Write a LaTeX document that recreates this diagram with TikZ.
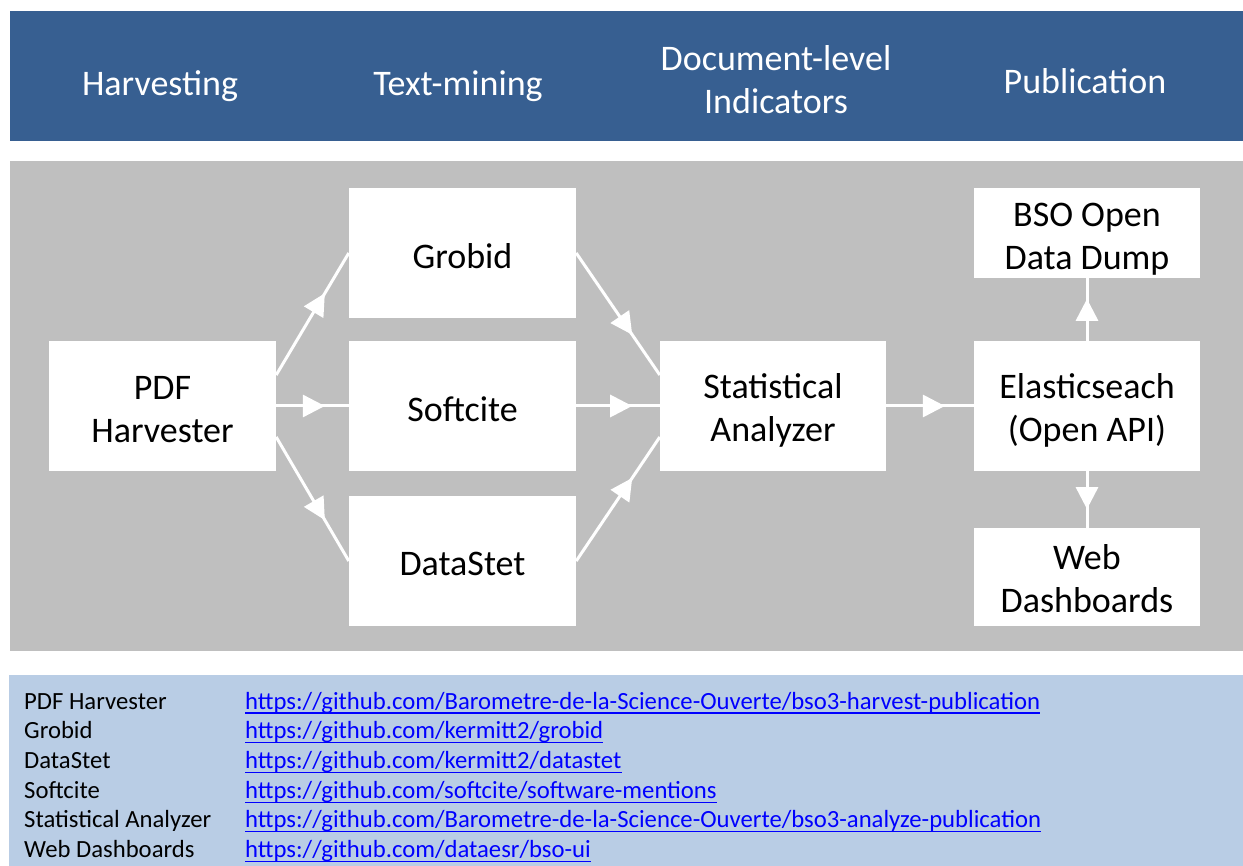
\documentclass[tikz,border=0pt]{standalone}
\usepackage{fontspec}
\setmainfont{Carlito}
\usepackage{xcolor}
\usetikzlibrary{arrows.meta,decorations.markings}
\definecolor{headblue}{HTML}{375F91}
\definecolor{panelgray}{HTML}{BFBFBF}
\definecolor{listblue}{HTML}{B9CDE5}
\definecolor{linkblue}{HTML}{0000FF}

\begin{document}
\begin{tikzpicture}[x=1pt,y=-1pt,
  box/.style={fill=white,minimum width=227pt,minimum height=130pt,inner sep=0pt},
  boxtext/.style={align=center,inner sep=0pt,yshift=-4pt,font=\fontsize{36}{43}\selectfont},
  head/.style={text=white,align=center,font=\fontsize{36}{43}\selectfont},
  flow/.style={white,line width=3pt,postaction={decorate},
    decoration={markings,mark=at position 0.67 with {\arrow{Triangle[length=22pt,width=22pt]}}}},
  item/.style={anchor=base west,inner sep=0pt,font=\fontsize{24.7}{29}\selectfont}]
\useasboundingbox (0,0) rectangle (1243,866);

% bands
\fill[headblue] (10,11) rectangle (1243,141);
\fill[panelgray] (10,161) rectangle (1243,651);
\fill[listblue] (9,675) rectangle (1243,866);

% stage titles
\node[head] (harvesting) at (160,86) {Harvesting};
\node[head] (textmining) at (458,86) {Text-mining};
\node[head] (indicators) at (776,80) {Document-level\\Indicators};
\node[head] (publication) at (1085,81) {Publication};

% components
\node[box,label={[boxtext]center:{PDF\\Harvester}}] (harvester) at (162.5,406) {};
\node[box,label={[boxtext,yshift=1pt]center:Grobid}] (grobid) at (462.5,253) {};
\node[box,label={[boxtext,yshift=1pt]center:Softcite}] (softcite) at (462.5,406) {};
\node[box,label={[boxtext,yshift=1pt]center:DataStet}] (datastet) at (462.5,561) {};
\node[box,minimum width=226pt,label={[boxtext]center:{Statistical\\Analyzer}}] (analyzer) at (773,406) {};
\node[box,minimum width=226pt,label={[boxtext]center:{Elasticseach\\(Open API)}}] (elastic) at (1087,406) {};
\node[box,minimum width=226pt,minimum height=90pt,label={[boxtext,yshift=-2pt]center:{BSO Open\\Data Dump}}] (dump) at (1087,233) {};
\node[box,minimum width=226pt,minimum height=98pt,label={[boxtext,yshift=2pt]center:{Web\\Dashboards}}] (dashboards) at (1087,577) {};

% flows
\draw[flow] ([yshift=31pt]harvester.east) -- (grobid.west);
\draw[flow] (harvester.east) -- (softcite.west);
\draw[flow] ([yshift=-31pt]harvester.east) -- (datastet.west);
\draw[flow] (grobid.east) -- ([yshift=31pt]analyzer.west);
\draw[flow] (softcite.east) -- (analyzer.west);
\draw[flow] (datastet.east) -- ([yshift=-31pt]analyzer.west);
\draw[flow] (analyzer.east) -- (elastic.west);
\draw[flow] (elastic.north) -- (dump.south);
\draw[flow] (elastic.south) -- (dashboards.north);

% repositories
\foreach \name/\link [count=\i] in {
  {PDF Harvester}/{https://github.com/Barometre-de-la-Science-Ouverte/bso3-harvest-publication},
  {Grobid}/{https://github.com/kermitt2/grobid},
  {DataStet}/{https://github.com/kermitt2/datastet},
  {Softcite}/{https://github.com/softcite/software-mentions},
  {Statistical Analyzer}/{https://github.com/Barometre-de-la-Science-Ouverte/bso3-analyze-publication},
  {Web Dashboards}/{https://github.com/dataesr/bso-ui}} {
  \node[item] (name\i) at (24,{709+(\i-1)*29.7}) {\name};
  \node[item,text=linkblue] (link\i) at (245,{709+(\i-1)*29.7}) {\link};
  \draw[linkblue,line width=1.2pt] ([yshift=-4pt]link\i.base west) -- ([yshift=-4pt]link\i.base east);
}
\end{tikzpicture}
\end{document}
